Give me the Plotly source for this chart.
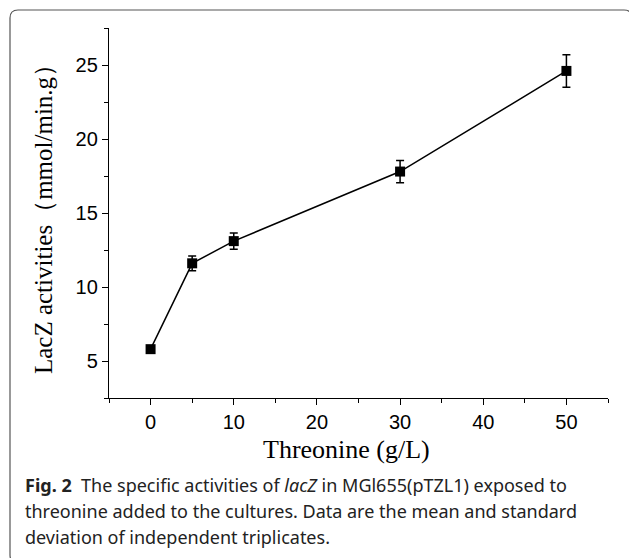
import plotly.graph_objects as go

threonine = [0, 5, 10, 30, 50]
activity = [5.8, 11.6, 13.1, 17.8, 24.6]
std_dev = [0.2, 0.5, 0.55, 0.75, 1.1]

x_ticks = [0, 10, 20, 30, 40, 50]
y_ticks = [5, 10, 15, 20, 25]

W, H = 629, 558
L, R, T, B = 109, 21, 28, 160
pw, ph = W - L - R, H - T - B

def px(x):
    return (x - L) / pw

def py(y):
    return (H - B - y) / ph

fig = go.Figure()
fig.add_trace(go.Scatter(
    x=threonine, y=activity,
    mode="lines+markers",
    line=dict(color="black", width=1.5),
    marker=dict(symbol="square", size=10, color="black"),
    error_y=dict(type="data", array=std_dev, visible=True, color="black", thickness=1.5, width=4),
    showlegend=False,
))

tickfont = dict(family="Liberation Sans, Arial", size=20, color="black")
titlefont = dict(family="Liberation Serif, Times New Roman, serif", size=26, color="black")
ytitlefont = dict(family="Liberation Serif, Times New Roman, serif", size=25, color="black")

fig.update_xaxes(
    range=[-5, 55], tickvals=x_ticks, ticks="outside", ticklen=6, tickwidth=1.3,
    tickcolor="black", showline=True, linecolor="black", linewidth=1.3,
    showgrid=False, zeroline=False, tickfont=tickfont,
    minor=dict(tickvals=[-5, 5, 15, 25, 35, 45, 55], ticks="outside", ticklen=3.5, tickwidth=1.3, tickcolor="black"),
)
fig.update_yaxes(
    range=[2.5, 27.5], tickvals=y_ticks, ticks="outside", ticklen=6, tickwidth=1.3,
    tickcolor="black", showline=True, linecolor="black", linewidth=1.3,
    showgrid=False, zeroline=False, tickfont=tickfont,
    minor=dict(tickvals=[2.5, 7.5, 12.5, 17.5, 22.5, 27.5], ticks="outside", ticklen=3.5, tickwidth=1.3, tickcolor="black"),
    title=dict(text="LacZ activities（mmol/min.g）", font=ytitlefont, standoff=15),
)

# x axis title placed as in the original (slightly left of centre)
fig.add_annotation(text="Threonine (g/L)", xref="paper", yref="paper", x=px(346), y=py(449),
                   xanchor="center", yanchor="middle", showarrow=False, font=titlefont)

# rounded frame around figure
x0, x1 = px(10), px(632)
y0, y1 = py(10), py(563)
rx, ry = 8 / pw, 8 / ph
path = (f"M {x0+rx},{y0} L {x1-rx},{y0} Q {x1},{y0} {x1},{y0-ry} "
        f"L {x1},{y1+ry} Q {x1},{y1} {x1-rx},{y1} L {x0+rx},{y1} "
        f"Q {x0},{y1} {x0},{y1+ry} L {x0},{y0-ry} Q {x0},{y0} {x0+rx},{y0} Z")
fig.add_shape(type="path", path=path, xref="paper", yref="paper",
              line=dict(color="#555555", width=1.2), layer="below")

cap_font = dict(family="Noto Sans, Open Sans, sans-serif", size=18, color="#222222")
lines = [
    "<b>Fig. 2</b>  The specific activities of <i>lacZ</i> in MGl655(pTZL1) exposed to",
    "threonine added to the cultures. Data are the mean and standard",
    "deviation of independent triplicates.",
]
for i, t in enumerate(lines):
    fig.add_annotation(text=t, xref="paper", yref="paper", x=px(23), y=py(485 + 26 * i),
                       xanchor="left", yanchor="middle", showarrow=False, align="left",
                       font=cap_font)

fig.update_layout(
    width=W, height=H, margin=dict(l=L, r=R, t=T, b=B),
    paper_bgcolor="white", plot_bgcolor="white",
)

fig.write_html("out.html", config={"displayModeBar": False},
               post_script="document.body.style.margin='0';document.body.style.padding='0';")
